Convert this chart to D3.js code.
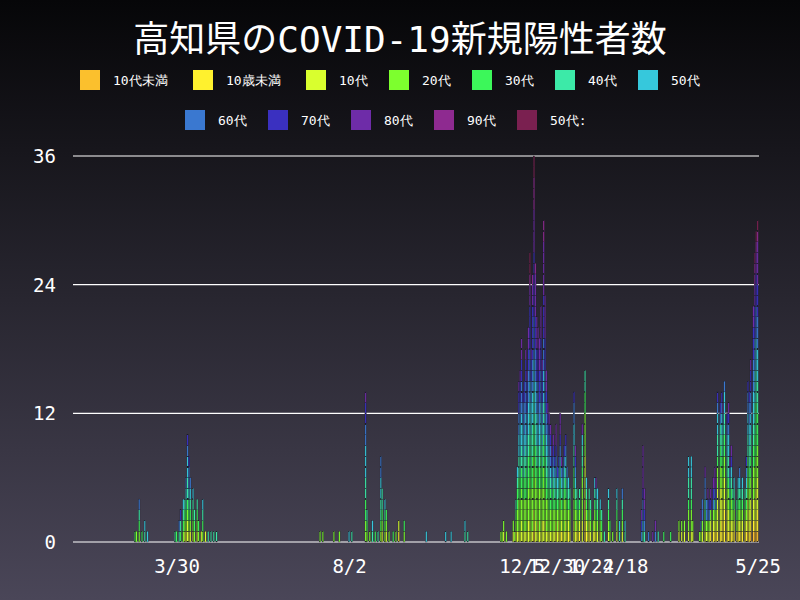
<!DOCTYPE html>
<html><head><meta charset="utf-8">
<script src="https://cdn.jsdelivr.net/npm/d3@7"></script>
<style>body{margin:0;background:#000}svg{display:block}</style>
</head><body>
<svg id="chart" width="800" height="600"></svg>
<script>
// categories, bottom of the stack first
var categories = ["10代未満","10歳未満","10代","20代","30代","40代","50代","60代","70代","80代","90代","50代:"]
var colors = ["#fbc02d","#fff12e","#d9ff2e","#7dff2e","#3cf75a","#3ceaa8","#36c8dc","#3a78d0","#3a30c0","#6e2ca8","#8e2a90","#7a2050"]

// day offsets from 2020-01-15, and the cases that day (one char per case = category index)
var days = [45,46,48,50,52,54,74,75,77,78,80,81,82,83,84,85,87,88,90,91,93,94,96,98,100,102,104,
  179,181,189,193,200,202,212,213,215,217,219,221,223,224,226,227,229,232,234,236,240,256,270,274,284,286,
  310,311,312,314,319,320,321,322,323,324,325,326,327,328,329,330,331,332,333,334,335,336,337,338,339,340,
  341,342,343,344,345,346,347,348,349,350,351,352,353,354,355,356,357,358,359,360,363,364,365,366,367,369,
  371,372,373,374,375,377,378,379,380,382,383,385,388,389,391,394,396,398,400,
  412,413,414,417,420,422,424,428,433,439,441,443,446,448,449,454,455,456,458,459,460,461,462,464,465,466,
  467,469,470,471,472,474,475,476,477,478,479,481,482,483,484,485,487,488,489,490,491,493,494,495,496]
var cases = ["4","3","3457","4","56","6","5","4","57","458","3456","2345","234567","2234556678","23456778","234567","23456","345","2345","34","2","3456","2","5","5","5","5",
  "3","3","3","3","6","5","33445566677889","345","3","56","4","5","34556677","23455","3456","234","3","4","3","12","34","6","6","6","56","5",
  "3","3","23","3","23","3","2345","2334456","233344556677889","2333445566677889","2233344556667778899","23334455666778","233344556677788","233344455666777889","2333445566778889","22333444556667778899","223333444555666777888899abb","233334455566677889","233334445556667778889988a",
  "0223333344455566677778888889999aaabb","2233334445556667778889999a","233334455666777888999","22333445566677788899","2333344556677888999","2333344455666777888999","22333445566778889",
  "2233333444555666777888899999aa","22333444556667778889999","2333445566778899","2333455667789","233445667789","23344567789","233456789","2334456789","23345678","12345567899","2334568","12345678","233344567899","12345679","2334567","233345678","2233445678","2334567","123456","23345","22333445566778","233456789","12345","2345","12345","22333345569",
  "1111222233334455","123456","234","12345","2345","23","123456","234569","23456","2346","345","5","23456","34","3","23456","56","23457","56",
  "789","567789999","57899","7","9","79","5","4","4","23","23","23","23345566","23345566","23","3","379","2377","2345779","2377","23779","2378","12389","123789","1235799","123789",
  "12222334556678","1222233445578","11222334556678","1122334455679","111222334455667","122334556678","1223345566789","12345679","123345689","12345","123456","1345","123456","1234567","12345","123456","12345","12345678","012233445566778","12233445566778","01223344556677889","0122333445566677788899","012233344455566677788899aab","012223334445556667778889944ab","0112223334445556667778889999ab"]

var yTicks = [0,12,24,36]
var tickLabels = ["3/30","8/2","12/5","12/30","1/24","2/18","5/25"]
var tickDays = [75,200,325,350,375,400,496]

var start = new Date(2020,0,15)
var dayToDate = d => d3.timeDay.offset(start, d)

var svg = d3.select("#chart")
var defs = svg.append("defs")
var grad = defs.append("linearGradient").attr("id","bg").attr("x1",0).attr("y1",0).attr("x2",0).attr("y2",1)
grad.append("stop").attr("offset","0%").attr("stop-color","#060608")
grad.append("stop").attr("offset","100%").attr("stop-color","#4a4658")
svg.append("rect").attr("width",800).attr("height",600).attr("fill","url(#bg)")

var font = "'DejaVu Sans Mono', monospace"

svg.append("text").attr("x",400).attr("y",52).attr("text-anchor","middle")
    .attr("fill","white").style("font-family","'DejaVu Sans Mono', 'Noto Sans CJK JP'").style("font-size","36px")
    .text("高知県のCOVID-19新規陽性者数")

// legend
var legendPos = [[80,70],[193,70],[306,70],[389,70],[472,70],[555,70],[638,70],[185,110],[268,110],[351,110],[434,110],[517,110]]
categories.forEach(function(c, i){
    var g = svg.append("g").attr("transform","translate(" + legendPos[i][0] + "," + legendPos[i][1] + ")")
    g.append("rect").attr("width",20).attr("height",20).attr("fill",colors[i])
    g.append("text").attr("x",33).attr("y",15).attr("fill","white")
        .style("font-family",font).style("font-size","13px").text(c)
})

var xScale = d3.scaleTime()
    .domain([start, dayToDate(497)])
    .range([73, 759])
var yScale = d3.scaleLinear().domain([0,36]).range([542,156])

// grid
svg.append("g").selectAll("line").data(yTicks).join("line")
    .attr("x1",73).attr("x2",759)
    .attr("y1",d => yScale(d)).attr("y2",d => yScale(d))
    .attr("stroke","white").attr("stroke-width",1.2)

svg.append("g").selectAll("text").data(yTicks).join("text")
    .attr("x",56).attr("y",d => yScale(d) + 7).attr("text-anchor","end")
    .attr("fill","white").style("font-family",font).style("font-size","19px")
    .text(d => d)

var xAxis = svg.append("g").attr("transform","translate(0,542)")
    .call(d3.axisBottom(xScale).tickValues(tickDays.map(dayToDate)).tickFormat((d,i) => tickLabels[i]).tickSize(0).tickPadding(18))
xAxis.select(".domain").remove()
xAxis.selectAll("text").attr("fill","white").style("font-family",font).style("font-size","19px")

// bars, one rect per case
var barW = xScale(dayToDate(1)) - xScale(dayToDate(0))
var segs = []
days.forEach(function(d, i){
    var list = cases[i].split("").map(ch => parseInt(ch, 16)).sort((a,b) => a - b)
    list.forEach(function(cat, k){ segs.push({day: d, cat: cat, k: k}) })
})
svg.append("g").selectAll("rect").data(segs).join("rect")
    .attr("x", d => xScale(dayToDate(d.day)) - barW/2)
    .attr("width", barW)
    .attr("y", d => yScale(d.k + 1))
    .attr("height", d => yScale(d.k) - yScale(d.k + 1))
    .attr("fill", d => colors[d.cat])
    .attr("stroke", "#1c1c24").attr("stroke-width", 0.3)
</script>
</body></html>
